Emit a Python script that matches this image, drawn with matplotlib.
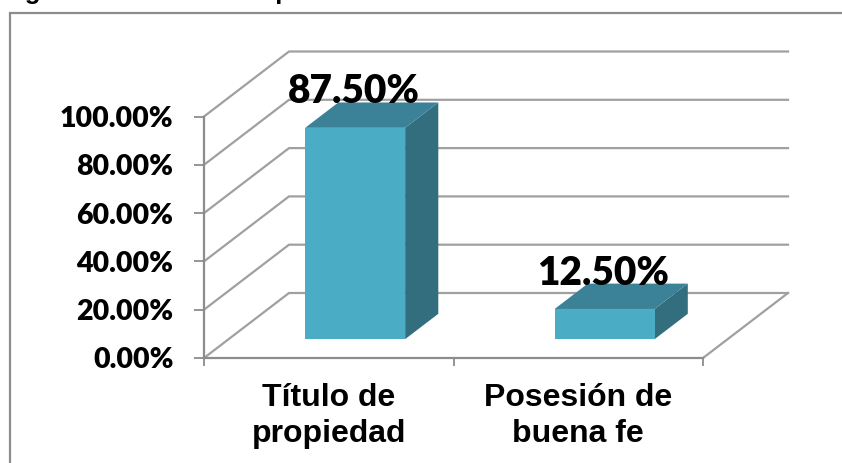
import matplotlib
matplotlib.use('Agg')
import matplotlib.pyplot as plt
from matplotlib.patches import Polygon, Rectangle

categories = ['Título de\npropiedad', 'Posesión de\nbuena fe']
values = [87.50, 12.50]
value_labels = ['87.50%', '12.50%']
yticks = [0, 20, 40, 60, 80, 100]
ytick_labels = ['0.00%', '20.00%', '40.00%', '60.00%', '80.00%', '100.00%']
title = 'Figura 1: Título de Propiedad'

W, H = 842, 463
GRID = '#a0a0a0'
AXIS = '#8c8c8c'
FRONT = '#4bacc6'
TOP = '#3b8299'
SIDE = '#336e7f'

# oblique depth of the floor, in data units
DX = 85 / 249.5
DY = 65 / 2.415
BAR_W = 100 / 249.5
BAR_SHIFT = 0.007
D0, D1 = 0.29, 0.68


def proj(x, y, d):
    return (x + d * DX, y + d * DY)


fig = plt.figure(figsize=(W / 100, H / 100), dpi=100)
ax = fig.add_axes([204 / W, 1 - 358 / H, 499 / W, 241.5 / H])
ax.set_xlim(0, 2)
ax.set_ylim(0, 100)
ax.patch.set_alpha(0)
for s in ax.spines.values():
    s.set_visible(False)

# chart border + cut off title
fig.add_artist(Rectangle((10 / W, -0.05), 1.1, 1 - 13 / H + 0.05, transform=fig.transFigure,
                         fill=False, edgecolor='#8c8c8c', linewidth=1.6))
fig.text(358 / W, 1 + 0.5 / H, title, ha='right', va='baseline', fontsize=18.5,
         fontweight='bold', family='Liberation Sans')

# walls: gridlines go back then run right
for v in yticks:
    p0 = proj(0, v, 0)
    p1 = proj(0, v, 1)
    p2 = proj(2, v, 1)
    ax.plot([p0[0], p1[0], p2[0]], [p0[1], p1[1], p2[1]], color=GRID, lw=1.6,
            clip_on=False, zorder=1, solid_joinstyle='miter')
p0 = proj(2, 0, 0)
p1 = proj(2, 0, 1)
ax.plot([p0[0], p1[0]], [p0[1], p1[1]], color=GRID, lw=1.6, clip_on=False, zorder=1)

# axis lines
ax.plot([0, 2], [0, 0], color=AXIS, lw=1.6, clip_on=False, zorder=2)
ax.plot([0, 0], [0, 100], color=AXIS, lw=1.6, clip_on=False, zorder=2)
ax.set_xticks([0, 1, 2])
ax.set_xticklabels([])
ax.set_yticks(yticks)
ax.set_yticklabels(ytick_labels, fontsize=20.5, fontweight='heavy', family='Lato')
ax.tick_params(axis='x', length=6, width=1.3, color=AXIS)
ax.tick_params(axis='y', length=7, width=1.3, color=AXIS, pad=15)

# bars
for i, v in enumerate(values):
    x0 = i + 0.5 + BAR_SHIFT - BAR_W / 2
    x1 = i + 0.5 + BAR_SHIFT + BAR_W / 2
    front = [proj(x0, 0, D0), proj(x1, 0, D0), proj(x1, v, D0), proj(x0, v, D0)]
    top = [proj(x0, v, D0), proj(x1, v, D0), proj(x1, v, D1), proj(x0, v, D1)]
    side = [proj(x1, 0, D0), proj(x1, 0, D1), proj(x1, v, D1), proj(x1, v, D0)]
    ax.add_patch(Polygon(side, facecolor=SIDE, edgecolor='none', clip_on=False, zorder=3))
    ax.add_patch(Polygon(top, facecolor=TOP, edgecolor='none', clip_on=False, zorder=3))
    ax.add_patch(Polygon(front, facecolor=FRONT, edgecolor='none', clip_on=False, zorder=4))
    lx, ly = proj(i + 0.5 + BAR_SHIFT, v, D0)
    ax.annotate(value_labels[i], (lx, ly), xytext=(-1, 17.6), textcoords='offset points',
                ha='center', va='baseline', fontsize=28, fontweight='heavy',
                family='Lato', color='black', zorder=5, annotation_clip=False)

# category labels
for i, c in enumerate(categories):
    ax.annotate(c, (i + 0.5, 0), xytext=(0, -18), textcoords='offset points',
                ha='center', va='top', fontsize=23, fontweight='bold',
                family='Liberation Sans', linespacing=1.28, annotation_clip=False)

fig.savefig('out.png', dpi=100)
